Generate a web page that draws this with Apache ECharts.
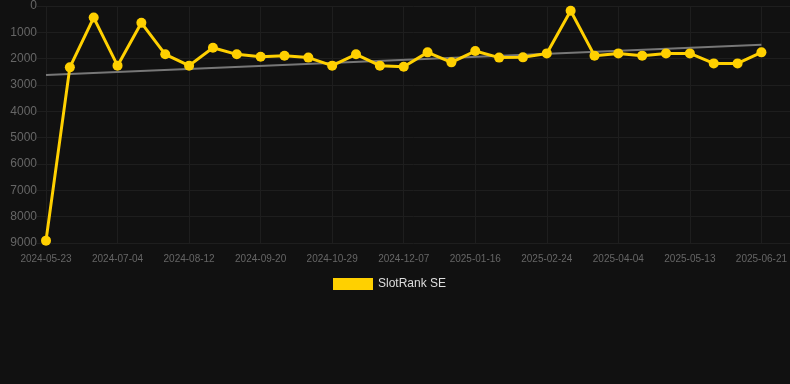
<!DOCTYPE html>
<html>
<head>
<meta charset="utf-8">
<script src="https://cdn.jsdelivr.net/npm/echarts@6/dist/echarts.min.js"></script>
<style>
  html, body { margin: 0; padding: 0; background: #111111; }
  #main { width: 790px; height: 384px; }
</style>
</head>
<body>
<div id="main"></div>
<script>
var dates = ['2024-05-23', '2024-06-06', '2024-06-20', '2024-07-04', '2024-07-17', '2024-07-30',
  '2024-08-12', '2024-08-25', '2024-09-07', '2024-09-20', '2024-10-03', '2024-10-16',
  '2024-10-29', '2024-11-11', '2024-11-24', '2024-12-07', '2024-12-20', '2025-01-03',
  '2025-01-16', '2025-01-29', '2025-02-11', '2025-02-24', '2025-03-09', '2025-03-22',
  '2025-04-04', '2025-04-17', '2025-04-30', '2025-05-13', '2025-05-26', '2025-06-08',
  '2025-06-21'];

var rank = [8910, 2330, 440, 2265, 640, 1835, 2265, 1585, 1835, 1925, 1890, 1960,
  2265, 1835, 2265, 2305, 1760, 2140, 1710, 1960, 1950, 1800, 180, 1885,
  1800, 1885, 1800, 1800, 2180, 2180, 1760];

// trend line end points (first and last category)
var trend = [[0, 2620], [30, 1470]];

var myChart = echarts.init(document.getElementById('main'));

var font = 'Arial, Liberation Sans, sans-serif';

var option = {
  backgroundColor: '#111111',
  animation: false,
  grid: [
    { left: 46, right: 28, top: 6, bottom: 141 },
    // wider grid only for the horizontal guide lines
    { left: 37, right: 0, top: 6, bottom: 141 }
  ],
  legend: {
    padding: 0,
    bottom: 94,
    left: 333,
    itemWidth: 40,
    itemHeight: 12,
    itemGap: 6,
    textStyle: { color: '#dddddd', fontSize: 12, fontFamily: font },
    data: [{ name: 'SlotRank SE', icon: 'rect' }]
  },
  xAxis: [
    {
      type: 'category',
      gridIndex: 0,
      data: dates,
      boundaryGap: false,
      position: 'bottom',
      axisLine: { show: false, onZero: false },
      axisTick: { show: false },
      axisLabel: {
        interval: 2,
        color: '#666666',
        fontSize: 10,
        margin: 11,
        fontFamily: font
      },
      splitLine: {
        show: true,
        interval: 2,
        lineStyle: { color: '#1e1e1e', width: 1 }
      }
    },
    {
      type: 'value',
      gridIndex: 1,
      min: 0,
      max: 1,
      show: false
    }
  ],
  yAxis: [
    {
      type: 'value',
      gridIndex: 0,
      inverse: true,
      min: 0,
      max: 9000,
      interval: 1000,
      axisLine: { show: false },
      axisTick: { show: false },
      axisLabel: {
        color: '#666666',
        fontSize: 12,
        margin: 9,
        fontFamily: font,
        formatter: function (v) { return String(v); }
      },
      splitLine: { show: false }
    },
    {
      type: 'value',
      gridIndex: 1,
      inverse: true,
      min: 0,
      max: 9000,
      interval: 1000,
      axisLine: { show: false },
      axisTick: { show: false },
      axisLabel: { show: false },
      splitLine: { lineStyle: { color: '#1e1e1e', width: 1 } }
    }
  ],
  series: [
    {
      name: 'Trend',
      type: 'line',
      data: trend,
      symbol: 'none',
      lineStyle: { color: '#777777', width: 2 },
      z: 1
    },
    {
      name: 'SlotRank SE',
      type: 'line',
      data: rank,
      symbol: 'circle',
      symbolSize: 10,
      itemStyle: { color: '#ffd000' },
      lineStyle: { color: '#ffd000', width: 3 },
      z: 2
    }
  ]
};

myChart.setOption(option);
</script>
</body>
</html>
